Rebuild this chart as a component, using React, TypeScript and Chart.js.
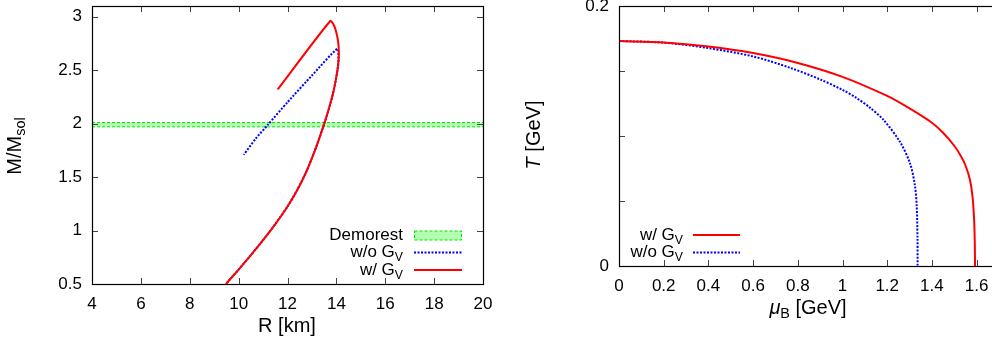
import React, { useEffect, useRef } from 'react';
import { Chart, registerables } from 'chart.js';

Chart.register(...registerables);

const FONT = '"Liberation Sans", Arial, Helvetica, sans-serif';

// ---------- Left panel: mass-radius relation ----------
const mrXTicks = [4, 6, 8, 10, 12, 14, 16, 18, 20];
const mrYTicks = [0.5, 1, 1.5, 2, 2.5, 3];
const mrWithGvR = [9.45, 9.52, 10.0, 10.5, 11.0, 11.5, 12.0, 12.4, 12.77, 13.1, 13.35, 13.56, 13.72, 13.86, 13.97, 14.05, 14.09, 14.1, 14.07, 14.0, 13.9, 13.75, 11.6];
const mrWithGvM = [0.48, 0.51, 0.635, 0.77, 0.91, 1.06, 1.225, 1.38, 1.55, 1.735, 1.895, 2.04, 2.16, 2.28, 2.4, 2.51, 2.6, 2.68, 2.77, 2.85, 2.92, 2.96, 2.32];
const mrWithoutGvR = [9.45, 9.52, 10.0, 10.5, 11.0, 11.5, 12.0, 12.4, 12.77, 13.1, 13.35, 13.56, 13.72, 13.86, 13.97, 14.05, 14.09, 14.04, 13.0, 12.0, 11.2, 10.7, 10.21];
const mrWithoutGvM = [0.48, 0.51, 0.635, 0.77, 0.91, 1.06, 1.225, 1.38, 1.55, 1.735, 1.895, 2.04, 2.16, 2.28, 2.4, 2.51, 2.6, 2.7, 2.45, 2.2, 1.99, 1.86, 1.709];
const demorestR = [4, 20];
const demorestUpper = [2.01, 2.01];
const demorestLower = [1.97, 1.97];

// ---------- Right panel: phase diagram ----------
const pdXTicks = [0, 0.2, 0.4, 0.6, 0.8, 1, 1.2, 1.4, 1.6, 1.8];
const pdYTicks = [0, 0.05, 0.1, 0.15, 0.2];
const pdYLabeled = [0, 0.2];
const pdWithGvMu = [0, 0.2, 0.4, 0.6, 0.8, 1.0, 1.2, 1.3, 1.4, 1.45, 1.5, 1.53, 1.55, 1.57, 1.582, 1.589, 1.592, 1.593];
const pdWithGvT = [0.1731, 0.1719, 0.1688, 0.1638, 0.1562, 0.1455, 0.1308, 0.1212, 0.1102, 0.1025, 0.0925, 0.0845, 0.0775, 0.0665, 0.053, 0.035, 0.017, 0];
const pdWithoutGvMu = [0, 0.2, 0.4, 0.6, 0.765, 0.9, 1.0, 1.063, 1.12, 1.183, 1.257, 1.302, 1.324, 1.332, 1.3355, 1.336];
const pdWithoutGvT = [0.1731, 0.1718, 0.1676, 0.1612, 0.1525, 0.1435, 0.1355, 0.1292, 0.1222, 0.1125, 0.0955, 0.079, 0.062, 0.046, 0.022, 0];

const RED = '#ff0000';
const BLUE = '#0000ff';
const GREEN = '#00e000';
const GREEN_FILL = 'rgba(0,255,0,0.3)';

type Part = { t: string; sub?: boolean; it?: boolean };
type LegendRow = { parts: Part[]; kind: 'red' | 'blue' | 'band'; y: number };
type Overlay = {
  xTitle: Part[];
  xTitleAt: [number, number];
  yTitle: Part[];
  yTitleAt: [number, number];
  legend: LegendRow[];
  legendTextRight: number;
  legendSample: [number, number];
};

const TICK_SIZE = 17;
const TITLE_SIZE = 20;
const LEGEND_SIZE = 17;

function setFont(ctx: CanvasRenderingContext2D, size: number, it?: boolean) {
  ctx.font = `${it ? 'italic ' : ''}${size}px ${FONT}`;
}

function partsWidth(ctx: CanvasRenderingContext2D, parts: Part[], size: number) {
  let w = 0;
  for (const p of parts) {
    setFont(ctx, p.sub ? size * 0.72 : size, p.it);
    w += ctx.measureText(p.t).width;
  }
  return w;
}

function drawParts(ctx: CanvasRenderingContext2D, parts: Part[], x: number, y: number, size: number, align: 'left' | 'right' | 'center') {
  const w = partsWidth(ctx, parts, size);
  let cx = align === 'left' ? x : align === 'right' ? x - w : x - w / 2;
  ctx.textBaseline = 'middle';
  ctx.textAlign = 'left';
  ctx.fillStyle = '#000';
  for (const p of parts) {
    const s = p.sub ? size * 0.72 : size;
    setFont(ctx, s, p.it);
    ctx.fillText(p.t, cx, p.sub ? y + size * 0.32 : y);
    cx += ctx.measureText(p.t).width;
  }
}

function makeOverlay(o: Overlay) {
  return {
    id: 'gnuplotFrame',
    afterDatasetsDraw(chart: any) {
      const { ctx, chartArea: a, scales } = chart;
      ctx.save();
      // inward tick marks on all four sides
      ctx.strokeStyle = '#444';
      ctx.lineWidth = 1;
      ctx.beginPath();
      for (const t of scales.x.ticks) {
        const px = Math.round(scales.x.getPixelForValue(t.value)) + 0.5;
        if (px < a.left - 1 || px > a.right + 1) continue;
        ctx.moveTo(px, a.bottom);
        ctx.lineTo(px, a.bottom - 6);
        ctx.moveTo(px, a.top);
        ctx.lineTo(px, a.top + 6);
      }
      for (const t of scales.y.ticks) {
        const py = Math.round(scales.y.getPixelForValue(t.value)) + 0.5;
        ctx.moveTo(a.left, py);
        ctx.lineTo(a.left + 6, py);
        ctx.moveTo(a.right, py);
        ctx.lineTo(a.right - 6, py);
      }
      ctx.stroke();
      // frame
      ctx.strokeStyle = '#000';
      ctx.lineWidth = 1.2;
      ctx.strokeRect(Math.round(a.left) + 0.5, Math.round(a.top) + 0.5, Math.round(a.right - a.left), Math.round(a.bottom - a.top));

      // legend
      const [sx0, sx1] = o.legendSample;
      for (const row of o.legend) {
        drawParts(ctx, row.parts, o.legendTextRight, row.y, LEGEND_SIZE, 'right');
        ctx.save();
        if (row.kind === 'band') {
          ctx.fillStyle = GREEN_FILL;
          ctx.fillRect(sx0, row.y - 4.5, sx1 - sx0, 9);
          ctx.strokeStyle = GREEN;
          ctx.lineWidth = 1;
          ctx.setLineDash([3, 2]);
          ctx.strokeRect(sx0 + 0.5, row.y - 4.5, sx1 - sx0 - 1, 9);
        } else {
          ctx.strokeStyle = row.kind === 'red' ? RED : BLUE;
          ctx.lineWidth = 2;
          if (row.kind === 'blue') ctx.setLineDash([2, 1.5]);
          ctx.beginPath();
          ctx.moveTo(sx0, row.y);
          ctx.lineTo(sx1, row.y);
          ctx.stroke();
        }
        ctx.restore();
      }

      // axis titles
      drawParts(ctx, o.xTitle, o.xTitleAt[0], o.xTitleAt[1], TITLE_SIZE, 'center');
      ctx.save();
      ctx.translate(o.yTitleAt[0], o.yTitleAt[1]);
      ctx.rotate(-Math.PI / 2);
      drawParts(ctx, o.yTitle, 0, 0, TITLE_SIZE, 'center');
      ctx.restore();
      ctx.restore();
    },
  };
}

const fmt = (v: number) => String(+Number(v).toFixed(2));

function xAxis(min: number, max: number, ticks: number[], height: number, label: (v: number) => string) {
  return {
    type: 'linear',
    min,
    max,
    afterBuildTicks: (s: any) => {
      s.ticks = ticks.map((v) => ({ value: v }));
    },
    afterFit: (s: any) => {
      s.height = height;
      s.paddingLeft = 0;
      s.paddingRight = 0;
    },
    grid: { display: false, drawTicks: false, tickLength: 0 },
    border: { display: false },
    title: { display: false },
    ticks: {
      font: { family: FONT, size: TICK_SIZE },
      color: '#000',
      padding: 10,
      maxRotation: 0,
      minRotation: 0,
      autoSkip: false,
      callback: (v: any) => label(Number(v)),
    },
  };
}

function yAxis(min: number, max: number, ticks: number[], width: number, label: (v: number) => string) {
  return {
    type: 'linear',
    min,
    max,
    afterBuildTicks: (s: any) => {
      s.ticks = ticks.map((v) => ({ value: v }));
    },
    afterFit: (s: any) => {
      s.width = width;
      s.paddingTop = 0;
      s.paddingBottom = 0;
    },
    grid: { display: false, drawTicks: false, tickLength: 0 },
    border: { display: false },
    title: { display: false },
    ticks: {
      font: { family: FONT, size: TICK_SIZE },
      color: '#000',
      padding: 10,
      autoSkip: false,
      callback: (v: any) => label(Number(v)),
    },
  };
}

const zip = (xs: number[], ys: number[]) => xs.map((x, i) => ({ x, y: ys[i] }));

export default function App() {
  const leftRef = useRef<HTMLCanvasElement>(null);
  const rightRef = useRef<HTMLCanvasElement>(null);

  useEffect(() => {
    const GV: Part[] = [{ t: 'w/ G' }, { t: 'V', sub: true }];
    const NOGV: Part[] = [{ t: 'w/o G' }, { t: 'V', sub: true }];

    const left = new Chart(leftRef.current as HTMLCanvasElement, {
      type: 'scatter',
      data: {
        datasets: [
          { label: 'w/ GV', data: zip(mrWithGvR, mrWithGvM), showLine: true, tension: 0.2, borderColor: RED, borderWidth: 2, pointRadius: 0, fill: false },
          { label: 'w/o GV', data: zip(mrWithoutGvR, mrWithoutGvM), showLine: true, tension: 0.2, borderColor: BLUE, borderWidth: 2, borderDash: [2, 1.5], pointRadius: 0, fill: false },
          { label: 'Demorest', data: zip(demorestR, demorestUpper), showLine: true, borderColor: GREEN, borderWidth: 1, borderDash: [3, 2], backgroundColor: GREEN_FILL, pointRadius: 0, fill: '+1' },
          { label: 'Demorest low', data: zip(demorestR, demorestLower), showLine: true, borderColor: GREEN, borderWidth: 1, borderDash: [3, 2], pointRadius: 0, fill: false },
        ],
      } as any,
      options: {
        responsive: false,
        animation: false,
        devicePixelRatio: 1,
        layout: { padding: { left: 0, right: 17, top: 6, bottom: 0 } },
        plugins: { legend: { display: false }, tooltip: { enabled: false } },
        scales: {
          x: xAxis(4, 20, mrXTicks, 58, fmt),
          y: yAxis(0.5, 3.1, mrYTicks, 92, fmt),
        } as any,
      },
      plugins: [
        makeOverlay({
          xTitle: [{ t: 'R [km]' }],
          xTitleAt: [287, 326],
          yTitle: [{ t: 'M/M' }, { t: 'sol', sub: true }],
          yTitleAt: [15, 146],
          legend: [
            { parts: [{ t: 'Demorest' }], kind: 'band', y: 235.5 },
            { parts: NOGV, kind: 'blue', y: 252.5 },
            { parts: GV, kind: 'red', y: 270 },
          ],
          legendTextRight: 403,
          legendSample: [414, 462],
        }),
      ],
    });

    const right = new Chart(rightRef.current as HTMLCanvasElement, {
      type: 'scatter',
      data: {
        datasets: [
          { label: 'w/ GV', data: zip(pdWithGvMu, pdWithGvT), showLine: true, tension: 0.3, borderColor: RED, borderWidth: 2, pointRadius: 0, fill: false },
          { label: 'w/o GV', data: zip(pdWithoutGvMu, pdWithoutGvT), showLine: true, tension: 0.3, borderColor: BLUE, borderWidth: 2, borderDash: [2, 1.5], pointRadius: 0, fill: false },
        ],
      } as any,
      options: {
        responsive: false,
        animation: false,
        devicePixelRatio: 1,
        layout: { padding: { left: 0, right: 18.7, top: 6, bottom: 0 } },
        plugins: { legend: { display: false }, tooltip: { enabled: false } },
        scales: {
          x: xAxis(0, 1.8, pdXTicks, 76, fmt),
          y: yAxis(0, 0.2, pdYTicks, 119, (v) => (pdYLabeled.some((l) => Math.abs(l - v) < 1e-9) ? fmt(v) : '')),
        } as any,
      },
      plugins: [
        makeOverlay({
          xTitle: [{ t: 'μ', it: true }, { t: 'B', sub: true }, { t: ' [GeV]' }],
          xTitleAt: [308, 308],
          yTitle: [{ t: 'T', it: true }, { t: ' [GeV]' }],
          yTitleAt: [34.5, 135],
          legend: [
            { parts: GV, kind: 'red', y: 235 },
            { parts: NOGV, kind: 'blue', y: 252.5 },
          ],
          legendTextRight: 183,
          legendSample: [193, 240],
        }),
      ],
    });

    return () => {
      left.destroy();
      right.destroy();
    };
  }, []);

  return (
    <div style={{ position: 'absolute', left: 0, top: 0, width: 992, height: 342, overflow: 'hidden', background: '#fff' }}>
      <canvas ref={leftRef} width={500} height={342} style={{ position: 'absolute', left: 0, top: 0, width: 500, height: 342 }} />
      <canvas ref={rightRef} width={540} height={342} style={{ position: 'absolute', left: 500, top: 0, width: 540, height: 342 }} />
    </div>
  );
}
